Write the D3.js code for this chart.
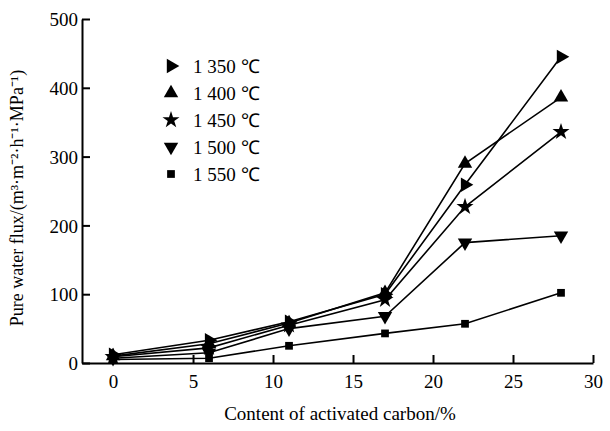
<!DOCTYPE html>
<html>
<head>
<meta charset="utf-8">
<script src="https://cdn.jsdelivr.net/npm/d3@7"></script>
<style>
  body { margin: 0; background: #fff; }
  svg text { font-family: "Liberation Serif", "Times New Roman", serif; fill: #000; }
</style>
</head>
<body>
<div id="chart"></div>
<script>
// activated carbon content (%)
var carbon = [0, 6, 11, 17, 22, 28];

var series = ['1 350 ℃', '1 400 ℃', '1 450 ℃', '1 500 ℃', '1 550 ℃'];
var flux1350 = [12, 33, 60, 100, 259, 445];
var flux1400 = [10, 28, 58, 102, 290, 386];
var flux1450 = [9, 22, 55, 92, 227, 336];
var flux1500 = [7, 15, 50, 68, 175, 185];
var flux1550 = [5, 7, 25, 43, 57, 102];

var xTicks = [0, 5, 10, 15, 20, 25, 30];
var yTicks = [0, 100, 200, 300, 400, 500];

var allFlux = [flux1350, flux1400, flux1450, flux1500, flux1550];

var width = 610, height = 431;
var svg = d3.select('#chart').append('svg')
    .attr('width', width)
    .attr('height', height);

var x = d3.scaleLinear().domain([-1.94, 30]).range([82, 593]);
var y = d3.scaleLinear().domain([0, 500]).range([363, 19]);

// axes, ticks pointing inward
var xAxis = svg.append('g')
    .attr('transform', 'translate(0,' + y(0) + ')')
    .call(d3.axisBottom(x).tickValues(xTicks).tickSizeInner(-8).tickSizeOuter(0).tickPadding(12));
var yAxis = svg.append('g')
    .attr('transform', 'translate(' + x.range()[0] + ',0)')
    .call(d3.axisLeft(y).tickValues(yTicks).tickSizeInner(-8).tickSizeOuter(0).tickPadding(4));

[xAxis, yAxis].forEach(function (a) {
    a.select('.domain').attr('stroke', '#000').attr('stroke-width', 2);
    a.selectAll('.tick line').attr('stroke', '#000').attr('stroke-width', 2);
    a.selectAll('.tick text').style('font-size', '19px').attr('fill', '#000');
});
yAxis.selectAll('.tick text').attr('dy', '0.35em');

// marker shapes per series
var shapes = [
    { type: d3.symbolTriangle, rot: 90, size: 90 },
    { type: d3.symbolTriangle, rot: 0, size: 90 },
    { type: d3.symbolStar, rot: 0, size: 90 },
    { type: d3.symbolTriangle, rot: 180, size: 90 },
    { type: d3.symbolSquare, rot: 0, size: 60 }
];

var line = d3.line()
    .x(function (d, i) { return x(carbon[i]); })
    .y(function (d) { return y(d); });

allFlux.forEach(function (vals, k) {
    svg.append('path')
        .attr('d', line(vals))
        .attr('fill', 'none')
        .attr('stroke', '#000')
        .attr('stroke-width', 1.6);
});

allFlux.forEach(function (vals, k) {
    var s = shapes[k];
    svg.selectAll(null)
        .data(vals)
        .enter()
        .append('path')
        .attr('d', d3.symbol().type(s.type).size(s.size))
        .attr('transform', function (d, i) {
            return 'translate(' + x(carbon[i]) + ',' + y(d) + ') rotate(' + s.rot + ')';
        })
        .attr('fill', '#000');
});

// legend
var legend = svg.append('g');
series.forEach(function (name, k) {
    var s = shapes[k];
    var ly = 66 + k * 27;
    legend.append('path')
        .attr('d', d3.symbol().type(s.type).size(s.size))
        .attr('transform', 'translate(171,' + ly + ') rotate(' + s.rot + ')')
        .attr('fill', '#000');
    legend.append('text')
        .attr('x', 193)
        .attr('y', ly)
        .attr('dy', '0.35em')
        .style('font-size', '19px')
        .text(name);
});

// axis titles
svg.append('text')
    .attr('x', 340)
    .attr('y', 420)
    .attr('text-anchor', 'middle')
    .style('font-size', '19px')
    .text('Content of activated carbon/%');

svg.append('text')
    .attr('transform', 'translate(23,' + 198 + ') rotate(-90)')
    .attr('text-anchor', 'middle')
    .style('font-size', '18px')
    .text('Pure water flux/(m³·m⁻²·h⁻¹·MPa⁻¹)');
</script>
</body>
</html>
